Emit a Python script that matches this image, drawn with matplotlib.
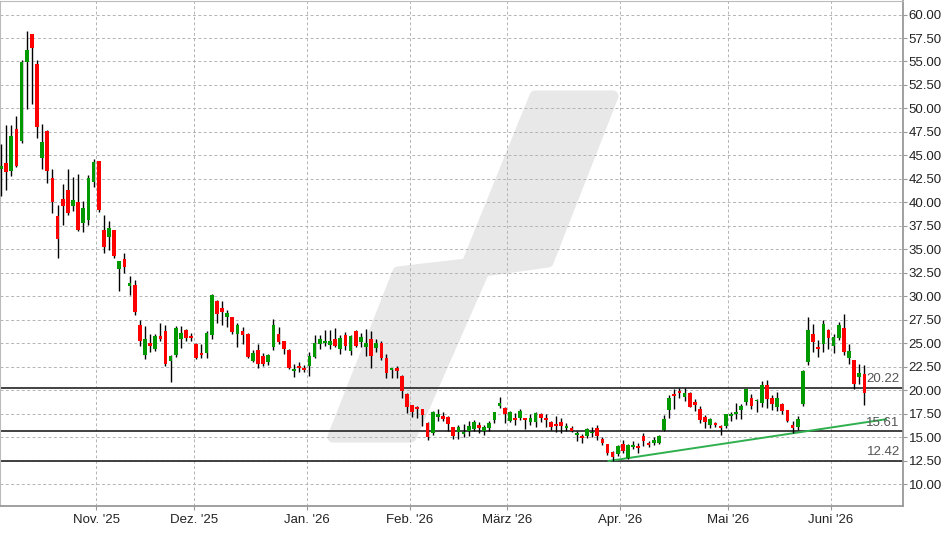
import numpy as np
import matplotlib.pyplot as plt
from matplotlib.patches import Polygon
from matplotlib.transforms import Affine2D

plt.rcParams['font.family'] = ['Liberation Sans', 'DejaVu Sans']

# OHLC-Kurse
opens = [43.6, 44.2, 43.3, 47.85, 46.5, 54.9, 57.9, 54.7, 44.75, 47.55,
         42.55, 38.5, 40.4, 41.3, 39.6, 40.0, 37.8, 38.1, 42.2, 44.36,
         37.1, 36.3, 37.1, 32.9, 34.0, 31.1, 31.2, 26.9, 23.7, 25.0,
         24.4, 25.75, 26.3, 23.1, 23.7, 25.4, 26.4, 25.75, 24.9, 23.94,
         23.94, 25.86, 29.47, 28.7, 27.77, 27.77, 25.96, 26.27, 26.0, 23.1,
         24.25, 23.6, 22.98, 24.6, 25.96, 25.2, 24.3, 22.05, 22.55, 22.4,
         22.55, 23.58, 24.96, 25.0, 24.8, 25.42, 24.36, 25.85, 24.18, 26.27,
         25.1, 24.6, 25.42, 24.5, 25.03, 23.4, 22.13, 22.37, 21.52, 19.64,
         18.37, 18.2, 17.98, 16.49, 15.46, 17.16, 17.23, 17.1, 16.06, 15.53,
         15.32, 15.67, 15.85, 16.28, 15.6, 15.96, 16.8, 18.3, 18.05, 16.74,
         17.02, 17.06, 17.02, 16.6, 16.6, 17.5, 17.02, 16.6, 16.42, 16.6,
         15.96, 15.96, 15.25, 15.11, 15.11, 15.43, 15.96, 14.76, 14.26, 13.41,
         13.2, 14.22, 12.8, 13.94, 14.08, 15.11, 14.37, 14.37, 14.37, 15.75,
         17.91, 19.58, 19.93, 19.3, 19.65, 18.73, 17.98, 17.13, 16.32, 16.46,
         16.17, 16.16, 17.23, 17.44, 17.87, 18.75, 19.2, 18.79, 18.65, 20.53,
         19.14, 18.22, 18.47, 17.87, 16.24, 16.09, 18.5, 22.97, 25.99, 24.57,
         24.96, 26.45, 24.71, 25.53, 26.59, 23.44, 23.19, 21.38, 21.7]
highs = [46.2, 48.2, 48.2, 49.15, 55.2, 58.2, 57.95, 55.2, 48.3, 47.7,
         43.6, 39.7, 41.9, 43.5, 42.66, 43.0, 40.1, 42.9, 44.6, 44.4,
         38.6, 38.0, 37.1, 33.8, 34.6, 32.2, 31.7, 27.5, 26.8, 25.96,
         25.96, 27.1, 26.9, 23.7, 26.8, 26.8, 26.5, 26.07, 25.0, 24.9,
         26.3, 30.2, 29.6, 29.47, 28.5, 27.8, 27.1, 26.74, 26.05, 24.25,
         24.96, 23.93, 23.9, 27.6, 26.74, 25.25, 24.35, 22.76, 22.98, 22.66,
         24.08, 25.85, 25.85, 26.45, 26.38, 26.66, 25.85, 26.2, 25.85, 26.38,
         26.1, 26.5, 26.27, 25.42, 25.2, 23.83, 22.4, 22.55, 21.6, 19.7,
         18.4, 18.3, 18.0, 16.63, 17.76, 17.98, 17.7, 17.23, 16.1, 16.24,
         16.38, 16.74, 16.77, 16.6, 16.3, 16.7, 17.7, 19.3, 18.16, 17.8,
         17.6, 17.94, 17.05, 17.5, 17.7, 17.55, 17.45, 16.67, 17.23, 17.02,
         16.45, 16.17, 15.6, 15.29, 15.93, 16.1, 16.28, 15.04, 14.3, 13.55,
         14.15, 14.65, 14.26, 14.58, 14.37, 15.43, 14.58, 15.0, 15.18, 17.38,
         19.47, 20.11, 20.22, 20.18, 19.76, 19.08, 18.34, 17.38, 17.06, 16.6,
         16.32, 17.5, 17.69, 18.58, 18.47, 20.1, 19.64, 19.04, 20.92, 21.06,
         19.46, 19.82, 18.65, 17.9, 16.66, 17.2, 22.12, 27.8, 27.09, 25.39,
         27.51, 26.56, 26.02, 27.27, 28.08, 24.96, 23.2, 22.76, 22.66]
lows = [40.7, 41.35, 42.8, 43.8, 46.3, 49.96, 50.5, 46.9, 43.5, 42.1,
        38.9, 34.1, 37.55, 38.6, 39.1, 36.9, 36.8, 37.55, 41.6, 39.0,
        34.6, 34.9, 34.1, 30.6, 32.5, 30.1, 28.0, 24.7, 23.3, 24.1,
        24.15, 25.2, 22.56, 20.9, 23.55, 24.5, 25.2, 25.2, 23.3, 23.4,
        23.4, 25.4, 27.2, 26.9, 26.7, 25.96, 24.6, 24.96, 23.44, 22.98,
        22.37, 22.55, 22.7, 24.25, 24.9, 23.9, 22.27, 21.4, 21.95, 21.95,
        21.5, 23.4, 24.36, 24.7, 24.36, 24.54, 23.9, 24.25, 23.72, 24.6,
        24.6, 23.6, 22.37, 24.08, 23.2, 21.3, 21.3, 21.3, 19.2, 17.6,
        17.16, 17.05, 16.2, 14.68, 15.25, 16.74, 16.74, 15.67, 14.75, 14.75,
        15.03, 15.14, 15.6, 15.46, 15.25, 15.6, 16.45, 18.05, 16.52, 16.6,
        16.24, 16.8, 15.89, 16.3, 16.03, 16.63, 16.1, 15.74, 15.57, 15.46,
        15.67, 15.53, 14.6, 14.33, 14.86, 14.97, 14.68, 14.15, 13.09, 12.45,
        12.98, 13.3, 12.66, 13.73, 13.3, 14.08, 13.98, 14.15, 14.26, 15.6,
        17.06, 17.98, 19.19, 18.83, 18.16, 17.8, 16.46, 16.0, 16.0, 16.03,
        15.18, 15.99, 16.73, 16.91, 16.95, 18.4, 17.98, 17.69, 18.22, 18.08,
        17.87, 17.76, 17.5, 16.63, 15.46, 15.74, 18.33, 22.66, 24.07, 23.54,
        24.07, 24.39, 23.97, 25.32, 23.72, 22.83, 20.07, 20.7, 18.44]
closes = [43.9, 43.2, 47.1, 43.9, 54.9, 56.2, 56.4, 48.0, 46.4, 43.3,
          40.0, 36.1, 39.6, 38.9, 40.2, 37.0, 39.4, 42.55, 44.25, 39.15,
          35.2, 37.3, 34.3, 33.7, 33.1, 31.4, 28.3, 25.2, 25.4, 24.7,
          25.75, 25.4, 22.8, 23.6, 26.6, 26.07, 25.5, 25.5, 23.4, 23.73,
          26.07, 30.1, 28.1, 28.3, 28.23, 26.17, 26.9, 25.85, 23.5, 23.93,
          22.83, 22.8, 23.69, 26.9, 25.14, 24.43, 22.37, 22.23, 22.37, 22.13,
          23.6, 25.0, 25.42, 25.2, 25.2, 24.68, 25.56, 24.7, 25.74, 24.68,
          25.64, 25.0, 23.6, 25.0, 23.37, 21.84, 22.37, 22.0, 19.9, 18.22,
          17.7, 18.0, 17.3, 15.03, 17.66, 17.5, 16.95, 16.42, 15.1, 16.06,
          15.56, 16.2, 16.6, 16.0, 16.06, 16.49, 17.62, 18.62, 17.45, 17.62,
          16.8, 17.77, 16.8, 17.02, 17.6, 16.99, 16.84, 16.06, 16.17, 16.2,
          16.17, 15.6, 15.46, 14.9, 15.85, 15.57, 15.11, 14.37, 13.3, 12.91,
          14.05, 13.51, 14.19, 14.15, 13.87, 14.58, 14.19, 14.68, 15.11, 16.92,
          19.15, 19.4, 19.72, 19.69, 18.23, 18.44, 16.85, 16.64, 16.92, 16.28,
          15.96, 17.44, 17.44, 17.65, 18.29, 20.1, 18.33, 18.97, 20.53, 19.07,
          18.47, 19.21, 17.83, 16.66, 15.99, 16.91, 22.02, 26.38, 25.14, 24.39,
          27.02, 25.6, 25.63, 26.91, 24.07, 24.14, 20.67, 21.8, 19.71]

# erster Handelstag je Monat (Index) und Beschriftung
month_start_idx = [19, 38, 60, 80, 99, 121, 142, 162]
month_labels = ["Nov. '25", "Dez. '25", "Jan. '26", "Feb. '26",
                "März '26", "Apr. '26", "Mai '26", "Juni '26"]

# Unterstützungen / Widerstand und Trendlinie
levels = [20.22, 15.61, 12.42]
trend_x = [118.2, 172.2]
trend_y = [12.45, 16.9]

o = np.array(opens)
h = np.array(highs)
l = np.array(lows)
c = np.array(closes)
idx = np.arange(len(o))

fig = plt.figure(figsize=(9.48, 5.34), dpi=100)
ax = fig.add_axes([0.0, 28 / 534, 902.5 / 948, 1 - 28 / 534 - 0.001])

# Logo-Wasserzeichen im Hintergrund (Pixelkoordinaten der Abbildung)
px = Affine2D().scale(1 / 948, -1 / 534).translate(0, 1) + fig.transFigure
logo = [(535, 96), (613, 96), (548, 262), (484, 271), (411, 437),
        (333, 437), (398, 272), (467, 264)]
ax.add_patch(Polygon(logo, closed=True, transform=px, facecolor='#e8e8e8',
                     edgecolor='#e8e8e8', lw=8, joinstyle='round', zorder=0))

# Kerzen
up = c >= o
colors = np.where(up, '#009a00', '#ff0000')
bottom = np.minimum(o, c)
height = np.maximum(np.abs(c - o), 0.12)
ax.vlines(idx, l, h, color='black', lw=1.0, zorder=3)
ax.bar(idx, height, bottom=bottom, width=0.72, color=colors, zorder=4)

# horizontale Linien
for lv in levels:
    ax.axhline(lv, color='#333333', lw=1.3, zorder=2)
    ax.text(0.997, lv + 0.3, f'{lv:.2f}', transform=ax.get_yaxis_transform(),
            ha='right', va='bottom', fontsize=9.5, color='#555555')

ax.plot(trend_x, trend_y, color='#2fb04f', lw=1.4, zorder=2.5)

ax.set_xlim(-0.2, 175.4)
ax.set_ylim(7.66, 61.49)
ax.set_yticks(np.arange(10, 60.01, 2.5))
ax.yaxis.set_major_formatter(plt.FormatStrFormatter('%.2f'))
ax.set_xticks([m - 0.5 for m in month_start_idx])
ax.set_xticklabels(month_labels)

ax.yaxis.tick_right()
ax.tick_params(axis='y', length=3, color='#999999', labelcolor='#222222',
               labelsize=9.5, pad=1.5)
ax.tick_params(axis='x', length=3, color='#999999', labelcolor='#222222',
               labelsize=9.5, pad=3)
ax.grid(True, color='#b4b4b4', lw=0.7, linestyle=(0, (3, 2.5)), zorder=1)
ax.set_axisbelow(True)
for s in ax.spines.values():
    s.set_color('#bbbbbb')
ax.spines['right'].set_color('#999999')
ax.spines['right'].set_linewidth(1.3)
ax.spines['bottom'].set_color('#999999')
ax.spines['bottom'].set_linewidth(1.3)

fig.savefig('out.png', dpi=100)
